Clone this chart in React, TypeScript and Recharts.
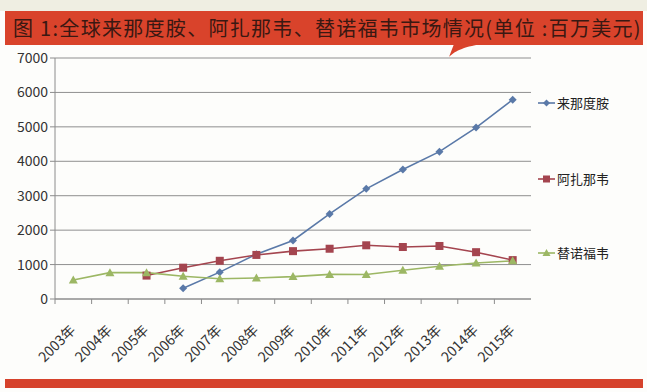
import React from "react";
import { CartesianGrid, Line, LineChart, XAxis, YAxis } from "recharts";

const years = ["2003年", "2004年", "2005年", "2006年", "2007年", "2008年", "2009年", "2010年", "2011年", "2012年", "2013年", "2014年", "2015年"];
const lenalidomide = [null, null, null, 310, 780, 1300, 1700, 2470, 3200, 3760, 4280, 4980, 5790];
const atazanavir = [null, null, 680, 910, 1110, 1280, 1390, 1460, 1560, 1510, 1540, 1360, 1130];
const tenofovir = [550, 765, 765, 660, 590, 610, 650, 715, 710, 835, 950, 1045, 1110];
const yTicks = [0, 1000, 2000, 3000, 4000, 5000, 6000, 7000];

const seriesNames = ["来那度胺", "阿扎那韦", "替诺福韦"];
const seriesColors = ["#5a79a8", "#a4454f", "#9cb764"];

const data = years.map((year, i) => ({
  year,
  a: lenalidomide[i],
  b: atazanavir[i],
  c: tenofovir[i]
}));

const FONT = '"Noto Sans CJK SC", "Noto Sans", sans-serif';
const BAND = 476 / 13;

function Diamond(props: any) {
  const { cx, cy, key } = props;
  if (cx == null || cy == null || props.value == null) return <g key={key} />;
  return <path key={key} d={`M${cx},${cy - 4}L${cx + 4},${cy}L${cx},${cy + 4}L${cx - 4},${cy}Z`} fill={seriesColors[0]} />;
}

function Square(props: any) {
  const { cx, cy, key } = props;
  if (cx == null || cy == null || props.value == null) return <g key={key} />;
  return <rect key={key} x={cx - 4} y={cy - 4} width={8} height={8} fill={seriesColors[1]} />;
}

function Triangle(props: any) {
  const { cx, cy, key } = props;
  if (cx == null || cy == null || props.value == null) return <g key={key} />;
  return <path key={key} d={`M${cx},${cy - 4.5}L${cx + 4.5},${cy + 3.5}L${cx - 4.5},${cy + 3.5}Z`} fill={seriesColors[2]} />;
}

function YearTick(props: any) {
  const { x, y, payload } = props;
  const tx = x + 3;
  const ty = y + 24;
  return (
    <g>
      <line x1={x - BAND / 2} y1={y - 8} x2={x - BAND / 2} y2={y - 3} stroke="#8c8c8c" />
      <text
        x={tx}
        y={ty}
        textAnchor="end"
        transform={`rotate(-45, ${tx}, ${ty})`}
        fontSize={14}
        fill="#333"
        fontFamily={FONT}
      >
        {payload.value}
      </text>
    </g>
  );
}

export default function App() {
  return (
    <div style={{ position: "absolute", left: 0, top: 0, width: 647, height: 392, background: "#fdfdfb", fontFamily: FONT, overflow: "hidden" }}>
      <div style={{ position: "absolute", left: 0, top: 0, width: 647, height: 11, background: "#efeee2" }} />
      <div
        style={{
          position: "absolute",
          left: 5,
          top: 11,
          width: 638,
          height: 34,
          background: "#d9432b",
          color: "#3a1812",
          fontSize: 20,
          lineHeight: "34px",
          paddingLeft: 8,
          boxSizing: "border-box",
          whiteSpace: "nowrap",
          fontWeight: 400,
          letterSpacing: 1.3
        }}
      >
        图 1:全球来那度胺、阿扎那韦、替诺福韦市场情况(单位 :百万美元)
      </div>
      <svg style={{ position: "absolute", left: 440, top: 44 }} width={50} height={16}>
        <path d="M9,13 C14,8 22,3 42,0 L14,0 Z" fill="#d9432b" />
      </svg>
      <div style={{ position: "absolute", left: 0, top: 0 }}>
        <LineChart width={647} height={392} data={data} margin={{ top: 58, right: 116, bottom: 33, left: 10 }}>
          <CartesianGrid vertical={false} stroke="#8f8f8f" />
          <XAxis
            dataKey="year"
            interval={0}
            height={60}
            padding={{ left: BAND / 2, right: BAND / 2 }}
            tickLine={false}
            axisLine={{ stroke: "#8c8c8c" }}
            tick={<YearTick />}
          />
          <YAxis
            domain={[0, 7000]}
            ticks={yTicks}
            width={45}
            tickSize={5}
            tickLine={{ stroke: "#8c8c8c" }}
            axisLine={{ stroke: "#8c8c8c" }}
            tick={{ fontSize: 14, fill: "#333", fontFamily: FONT }}
          />
          <Line dataKey="a" stroke={seriesColors[0]} strokeWidth={1.6} dot={Diamond} activeDot={false} isAnimationActive={false} />
          <Line dataKey="b" stroke={seriesColors[1]} strokeWidth={1.6} dot={Square} activeDot={false} isAnimationActive={false} />
          <Line dataKey="c" stroke={seriesColors[2]} strokeWidth={1.6} dot={Triangle} activeDot={false} isAnimationActive={false} />
        </LineChart>
      </div>
      {seriesNames.map((name, i) => (
        <div key={name} style={{ position: "absolute", left: 538, top: [94, 170, 244][i], display: "flex", alignItems: "center", fontSize: 13, color: "#222" }}>
          <svg width={18} height={10}>
            <line x1={0} y1={5} x2={17} y2={5} stroke={seriesColors[i]} strokeWidth={1.6} />
            {i === 0 && <path d="M8.5,1.5L12,5L8.5,8.5L5,5Z" fill={seriesColors[i]} />}
            {i === 1 && <rect x={5} y={1.5} width={7} height={7} fill={seriesColors[i]} />}
            {i === 2 && <path d="M8.5,1L12.5,8L4.5,8Z" fill={seriesColors[i]} />}
          </svg>
          <span style={{ marginLeft: 1, lineHeight: "18px" }}>{name}</span>
        </div>
      ))}
      <div style={{ position: "absolute", left: 5, top: 379, width: 638, height: 9, background: "#d6422c" }} />
    </div>
  );
}
